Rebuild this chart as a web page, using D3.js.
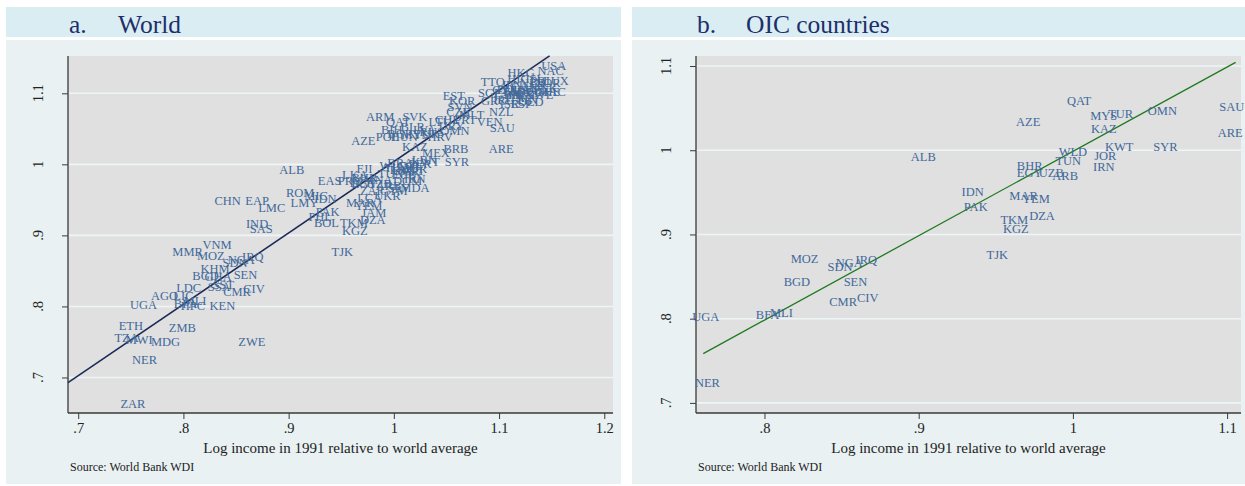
<!DOCTYPE html>
<html>
<head>
<meta charset="utf-8">
<script src="https://cdn.jsdelivr.net/npm/d3@7"></script>
<style>
body { margin: 0; background: #fff; }
text { font-family: "Liberation Serif", "Times New Roman", serif; }
</style>
</head>
<body>
<svg id="chart" width="1245" height="486"></svg>
<script>
// country codes, log income 1991 relative to world (x), outcome relative to world (y)
const codes = [
  'QAT','MYS','TUR','OMN','SAU','ARE','AZE','KAZ','KWT','SYR','ALB','WLD','TUN','JOR','IRN',
  'BHR','EGY','UZB','ARB','IDN','PAK','MAR','YEM','TKM','DZA','KGZ','TJK','MOZ','NGA','IRQ',
  'SDN','BGD','SEN','CMR','CIV','BFA','MLI','UGA','NER',
  'EAS','ROM','MIC','LMY','CHN','EAP','LMC','PHL','BOL','IND','SAS','MMR','VNM','KHM','GHA',
  'LDC','SSA','SST','AGO','LIC','HPC','KEN','ETH','ZMB','TZA','MWI','MDG','ZWE','ZAR',
  'JAM','LCA','ZAF','UKR','MDA','FJI','LKA','PRY','ECA','DOM','SLV','BRA','COL','PER','GTM',
  'ECU','MNA','LAC','UMC','THA','CRI','MEX','BRB','LBN','ARM','SVK','POL','HUN','HRV','BIH',
  'BLR','LTU','CHL','PRT','BGR','LVA','RUS','URY','VEN','MLT','CZE','EST','KOR','SVN','GRC',
  'NZL','ESP','ISR','TTO','SGP','HKG','HIC','USA','NAC','PRI','LUX','JPN','CAN','AUS','DEU',
  'FRA','GBR','ITA','NLD','BEL','AUT','DNK','SWE','FIN','NOR','IRL','ISL','CHE','OED','EMU',
  'EUU','CYP','MAC'
];
const income91 = [
  1.004,1.020,1.031,1.058,1.103,1.102,0.971,1.020,1.030,1.060,0.903,1.000,0.997,1.021,1.020,
  0.972,0.972,0.986,0.995,0.935,0.937,0.968,0.976,0.962,0.980,0.963,0.951,0.826,0.855,0.866,
  0.849,0.821,0.859,0.851,0.867,0.802,0.811,0.762,0.763,
  0.939,0.911,0.926,0.915,0.842,0.870,0.884,0.930,0.936,0.870,0.874,0.804,0.832,0.830,0.833,
  0.805,0.834,0.838,0.782,0.800,0.809,0.837,0.750,0.799,0.746,0.758,0.783,0.865,0.752,
  0.981,0.977,0.979,0.994,1.020,0.972,0.963,0.958,0.970,1.013,1.005,1.006,1.015,1.025,1.000,
  1.010,0.985,1.008,1.012,1.003,1.018,1.040,1.059,1.029,0.987,1.020,0.994,1.010,1.044,0.998,
  1.018,1.044,1.051,1.068,1.006,1.029,1.036,1.055,1.091,1.074,1.061,1.057,1.065,1.063,1.095,
  1.102,1.121,1.110,1.094,1.091,1.121,1.118,1.152,1.149,1.139,1.154,1.112,1.124,1.115,1.129,
  1.120,1.108,1.115,1.132,1.136,1.124,1.143,1.139,1.127,1.146,1.104,1.134,1.146,1.130,1.117,
  1.110,1.105,1.150
];
const outcome = [
  1.059,1.041,1.043,1.047,1.051,1.021,1.033,1.025,1.004,1.004,0.992,0.998,0.987,0.993,0.980,
  0.981,0.973,0.973,0.970,0.951,0.933,0.946,0.942,0.917,0.922,0.906,0.876,0.871,0.866,0.870,
  0.861,0.843,0.844,0.820,0.825,0.804,0.807,0.802,0.724,
  0.976,0.960,0.956,0.946,0.949,0.949,0.938,0.926,0.918,0.916,0.909,0.877,0.887,0.852,0.842,
  0.826,0.828,0.830,0.814,0.815,0.800,0.801,0.773,0.770,0.755,0.753,0.750,0.750,0.663,
  0.932,0.952,0.963,0.956,0.967,0.993,0.985,0.976,0.974,0.976,0.966,1.002,0.997,1.000,0.962,
  0.985,0.978,0.992,0.990,0.995,0.990,1.016,1.022,1.006,1.066,1.066,1.039,1.038,1.038,1.049,
  1.052,1.059,1.062,1.062,1.043,1.049,1.045,1.054,1.059,1.070,1.074,1.096,1.089,1.081,1.089,
  1.074,1.085,1.085,1.116,1.101,1.129,1.120,1.138,1.131,1.118,1.118,1.112,1.109,1.105,1.102,
  1.098,1.098,1.093,1.114,1.105,1.097,1.108,1.098,1.091,1.115,1.091,1.120,1.102,1.088,1.102,
  1.105,1.105,1.102
];
// OIC members (plus WLD and ARB aggregates) shown in panel b
const oicCodes = codes.slice(0, 39);

const xTicksWorld = [0.7, 0.8, 0.9, 1, 1.1, 1.2];
const xTicksOic = [0.8, 0.9, 1, 1.1];
const yTicks = [0.7, 0.8, 0.9, 1, 1.1];
// fitted lines: [intercept, slope], and x range covered
const fitWorld = [-0.0006, 1.0045];
const fitWorldRange = [0.6903, 1.148];
const fitOic = [-0.0033, 1.002];
const fitOicRange = [0.7603, 1.1055];

const fmt = v => String(v).replace(/^0\./, '.');

const rows = codes.map((c, i) => ({ code: c, x: income91[i], y: outcome[i] }));

const svg = d3.select('#chart');

function panel(cfg) {
  const g = svg.append('g');
  // panel background + title band
  g.append('rect').attr('x', cfg.left).attr('y', 7).attr('width', cfg.width).attr('height', 30)
    .attr('fill', '#daedf3');
  g.append('rect').attr('x', cfg.left).attr('y', 40).attr('width', cfg.width).attr('height', 444)
    .attr('fill', '#e9f1f3');
  g.append('text').attr('x', cfg.titleX).attr('y', 33).attr('font-size', 25.5)
    .attr('fill', '#1d2f6b').text(cfg.letter);
  g.append('text').attr('x', cfg.titleX + 49).attr('y', 33).attr('font-size', 25.5)
    .attr('fill', '#1d2f6b').text(cfg.title);

  const x = d3.scaleLinear().domain(cfg.xDomain).range([cfg.x0, cfg.x1]);
  const y = d3.scaleLinear().domain(cfg.yDomain).range([cfg.y1, cfg.y0]);

  g.append('rect').attr('x', cfg.x0).attr('y', cfg.y0)
    .attr('width', cfg.x1 - cfg.x0).attr('height', cfg.y1 - cfg.y0).attr('fill', '#e0e0e0');

  // horizontal gridlines
  g.selectAll('.grid').data(yTicks).enter().append('line')
    .attr('x1', cfg.x0).attr('x2', cfg.x1)
    .attr('y1', d => y(d)).attr('y2', d => y(d))
    .attr('stroke', '#eef5f7').attr('stroke-width', 1.6);

  // x axis
  const xa = g.append('g').attr('transform', `translate(0,${cfg.y1})`)
    .call(d3.axisBottom(x).tickValues(cfg.xTicks).tickFormat(fmt).tickSize(6).tickPadding(4).tickSizeOuter(0));
  xa.select('.domain').attr('stroke', '#3a3a3a').attr('stroke-width', 1.3)
    .attr('d', `M${cfg.x0},0H${cfg.x1}`);
  xa.selectAll('.tick line').attr('stroke', '#3a3a3a');
  xa.selectAll('.tick text').attr('font-size', 14.5).attr('fill', '#222')
    .attr('font-family', '"Liberation Serif", serif');

  // y axis
  const ya = g.append('g').attr('transform', `translate(${cfg.x0},0)`)
    .call(d3.axisLeft(y).tickValues(yTicks).tickFormat('').tickSize(6).tickSizeOuter(0));
  ya.select('.domain').attr('stroke', '#3a3a3a').attr('stroke-width', 1.3)
    .attr('d', `M0,${cfg.y0}V${cfg.y1}`);
  ya.selectAll('.tick line').attr('stroke', '#3a3a3a');
  g.selectAll('.ylab').data(yTicks).enter().append('text')
    .attr('transform', d => `translate(${cfg.x0 - 30},${y(d)}) rotate(-90)`)
    .attr('text-anchor', 'middle').attr('dominant-baseline', 'central')
    .attr('font-size', 14.5).attr('fill', '#222').text(fmt);

  // fitted line
  const line = d3.line().x(d => x(d)).y(d => y(cfg.fit[0] + cfg.fit[1] * d));
  g.append('path').datum(cfg.fitRange).attr('d', line)
    .attr('fill', 'none').attr('stroke', cfg.lineColor).attr('stroke-width', cfg.lineWidth);

  // country labels
  g.selectAll('.lab').data(cfg.data).enter().append('text')
    .attr('x', d => x(d.x)).attr('y', d => y(d.y))
    .attr('text-anchor', 'middle').attr('dominant-baseline', 'central')
    .attr('font-size', 12.5).attr('fill', '#41699a').text(d => d.code);

  // axis title and note
  g.append('text').attr('x', (cfg.x0 + cfg.x1) / 2).attr('y', 453)
    .attr('text-anchor', 'middle').attr('font-size', 15).attr('fill', '#222')
    .text('Log income in 1991 relative to world average');
  g.append('text').attr('x', cfg.x0 + 2).attr('y', 471)
    .attr('font-size', 12).attr('fill', '#222').text('Source: World Bank WDI');
}

panel({
  left: 6, width: 615, titleX: 69, letter: 'a.', title: 'World',
  x0: 68, x1: 613, y0: 56, y1: 413,
  xDomain: [0.6903, 1.2083], yDomain: [0.650, 1.1525], xTicks: xTicksWorld,
  fit: fitWorld, fitRange: fitWorldRange, lineColor: '#1c2a58', lineWidth: 1.6,
  data: rows
});

panel({
  left: 632, width: 613, titleX: 697, letter: 'b.', title: 'OIC countries',
  x0: 696, x1: 1241, y0: 56, y1: 413,
  xDomain: [0.7556, 1.109], yDomain: [0.688, 1.1119], xTicks: xTicksOic,
  fit: fitOic, fitRange: fitOicRange, lineColor: '#1f7a1f', lineWidth: 1.3,
  data: rows.filter(d => oicCodes.includes(d.code))
});
</script>
</body>
</html>
